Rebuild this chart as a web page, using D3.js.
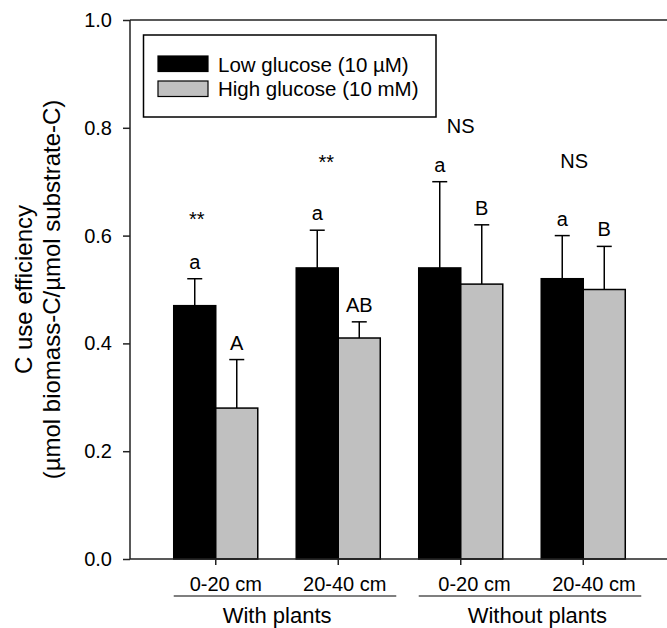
<!DOCTYPE html>
<html>
<head>
<meta charset="utf-8">
<script src="https://cdn.jsdelivr.net/npm/d3@7"></script>
<style>
  html, body { margin: 0; padding: 0; background: #fff; }
  svg { display: block; font-family: "Liberation Sans", Arial, Helvetica, sans-serif; }
</style>
</head>
<body>
<svg id="chart" width="667" height="628"></svg>
<script>
// ---- data ----
const depths = ["0-20 cm", "20-40 cm", "0-20 cm", "20-40 cm"];
const treatments = ["With plants", "Without plants"];
const seriesNames = ["Low glucose (10 µM)", "High glucose (10 mM)"];
const lowMean = [0.47, 0.54, 0.54, 0.52];
const lowSE   = [0.05, 0.07, 0.16, 0.08];
const highMean = [0.28, 0.41, 0.51, 0.50];
const highSE   = [0.09, 0.03, 0.11, 0.08];
const lowLetters = ["a", "a", "a", "a"];
const highLetters = ["A", "AB", "B", "B"];
const sigLabels = ["**", "**", "NS", "NS"];
const sigLevel = [0.617, 0.724, 0.790, 0.725];
const yTicks = [0.0, 0.2, 0.4, 0.6, 0.8, 1.0];
const yTitle = ["C use efficiency", "(µmol biomass-C/µmol substrate-C)"];

// ---- layout ----
const svg = d3.select("#chart");
const pL = 130, pR = 669, pT = 20, pB = 559;
const colors = ["#000000", "#c0c0c0"];

const y = d3.scaleLinear().domain([0, 1]).range([pB, pT]);
const x0 = d3.scaleBand().domain(d3.range(depths.length)).range([pL, pR])
  .paddingInner(0.314).paddingOuter(0.357);
const x1 = d3.scaleBand().domain([0, 1]).range([0, x0.bandwidth()]).padding(0);

const means = [lowMean, highMean];
const ses = [lowSE, highSE];
const letters = [lowLetters, highLetters];

const rows = [];
depths.forEach((d, i) => {
  [0, 1].forEach(s => rows.push({ g: i, s, m: means[s][i], e: ses[s][i], l: letters[s][i] }));
});

// frame lines (top, left)
svg.append("line").attr("x1", pL).attr("x2", pR).attr("y1", pT).attr("y2", pT)
  .attr("stroke", "#222").attr("stroke-width", 1.5);
svg.append("line").attr("x1", pL).attr("x2", pL).attr("y1", pT).attr("y2", pB)
  .attr("stroke", "#222").attr("stroke-width", 1.5);

// bars
const g = svg.append("g");
g.selectAll("rect.bar").data(rows).join("rect")
  .attr("class", "bar")
  .attr("x", d => x0(d.g) + x1(d.s))
  .attr("width", x1.bandwidth())
  .attr("y", d => y(d.m))
  .attr("height", d => y(0) - y(d.m))
  .attr("fill", d => colors[d.s])
  .attr("stroke", "#000").attr("stroke-width", 1.5);

// error bars (upper only)
const cx = d => x0(d.g) + x1(d.s) + x1.bandwidth() / 2;
g.selectAll("line.err").data(rows).join("line")
  .attr("class", "err")
  .attr("x1", cx).attr("x2", cx)
  .attr("y1", d => y(d.m)).attr("y2", d => y(d.m + d.e))
  .attr("stroke", "#000").attr("stroke-width", 1.5);
g.selectAll("line.cap").data(rows).join("line")
  .attr("class", "cap")
  .attr("x1", d => cx(d) - 7.5).attr("x2", d => cx(d) + 7.5)
  .attr("y1", d => y(d.m + d.e)).attr("y2", d => y(d.m + d.e))
  .attr("stroke", "#000").attr("stroke-width", 1.5);

// letters above error bars
g.selectAll("text.letter").data(rows).join("text")
  .attr("class", "letter")
  .attr("x", cx)
  .attr("y", d => y(d.m + d.e) - 10)
  .attr("text-anchor", "middle")
  .attr("font-size", 20)
  .text(d => d.l);

// significance labels
const sigDx = [-19, -12, 0, -9];
g.selectAll("text.sig").data(sigLabels).join("text")
  .attr("class", "sig")
  .attr("x", (d, i) => x0(i) + x0.bandwidth() / 2 + sigDx[i])
  .attr("y", (d, i) => y(sigLevel[i]))
  .attr("text-anchor", "middle")
  .attr("font-size", 20)
  .text(d => d);

// y axis
const yAxis = svg.append("g").attr("transform", `translate(${pL},0)`)
  .call(d3.axisLeft(y).tickValues(yTicks).tickFormat(d3.format(".1f")).tickSize(7).tickPadding(11).tickSizeOuter(0));
yAxis.select(".domain").remove();
yAxis.selectAll("line").attr("stroke", "#222").attr("stroke-width", 1.5);
yAxis.selectAll("text").attr("font-size", 20).attr("fill", "#000")
  .attr("font-family", "Liberation Sans, Arial, sans-serif");

// x axis
const xAxis = svg.append("g").attr("transform", `translate(0,${pB})`)
  .call(d3.axisBottom(x0).tickSize(6).tickSizeOuter(0).tickFormat(""));
xAxis.select(".domain").remove();
svg.append("line").attr("x1", pL).attr("x2", pR).attr("y1", pB).attr("y2", pB)
  .attr("stroke", "#222").attr("stroke-width", 1.5);
xAxis.selectAll("line").attr("stroke", "#222").attr("stroke-width", 1.5);

const depthDx = [10, 6.5, 13.7, 10.7];
svg.selectAll("text.depth").data(depths).join("text")
  .attr("class", "depth")
  .attr("x", (d, i) => x0(i) + x0.bandwidth() / 2 + depthDx[i])
  .attr("y", 590.5)
  .attr("text-anchor", "middle")
  .attr("font-size", 20)
  .text(d => d);

// treatment underlines + labels
treatments.forEach((t, k) => {
  const a = x0(2 * k), b = x0(2 * k + 1) + x0.bandwidth() + 16;
  svg.append("line").attr("x1", a).attr("x2", b).attr("y1", 596).attr("y2", 596)
    .attr("stroke", "#555").attr("stroke-width", 1.5);
  svg.append("text").attr("x", a + 49).attr("y", 623)
    .attr("font-size", 22).text(t);
});

// y title
yTitle.forEach((t, k) => {
  svg.append("text")
    .attr("transform", `translate(${31.5 + k * 28.5},${(pT + pB) / 2}) rotate(-90)`)
    .attr("text-anchor", "middle")
    .attr("font-size", 24)
    .text(t);
});

// legend
const lg = svg.append("g");
lg.append("rect").attr("x", 143.5).attr("y", 35).attr("width", 292.5).attr("height", 82)
  .attr("fill", "#fff").attr("stroke", "#000").attr("stroke-width", 1.5);
seriesNames.forEach((s, k) => {
  lg.append("rect").attr("x", 158).attr("y", 56 + k * 25).attr("width", 50).attr("height", 15.5)
    .attr("fill", colors[k]).attr("stroke", "#000").attr("stroke-width", 1.2);
  lg.append("text").attr("x", 218).attr("y", 71.5 + k * 24.5)
    .attr("font-size", 20.5).text(s);
});
</script>
</body>
</html>
